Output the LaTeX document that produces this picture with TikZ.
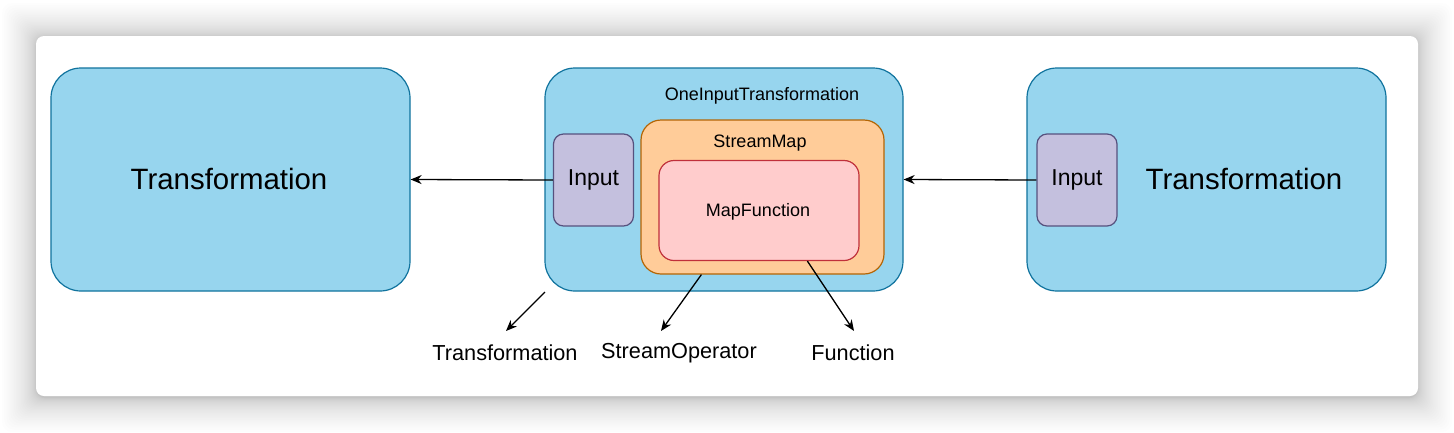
\documentclass[tikz,border=0pt]{standalone}
\usepackage{fontspec}
\setmainfont{Liberation Sans}
\usetikzlibrary{arrows.meta,calc}
\definecolor{tblue}{HTML}{97D5EE}
\definecolor{tbluel}{HTML}{10739E}
\definecolor{tpurp}{HTML}{C4C0DE}
\definecolor{tpurpl}{HTML}{56517E}
\definecolor{torng}{HTML}{FFCC99}
\definecolor{torngl}{HTML}{B46504}
\definecolor{tpink}{HTML}{FFCCCC}
\definecolor{tpinkl}{HTML}{C0303A}
\begin{document}
\begin{tikzpicture}[x=1pt,y=-1pt,
  trbox/.style={draw=tbluel,fill=tblue,line width=1.2pt,rounded corners=30pt,minimum width=359pt,minimum height=223pt,inner sep=0pt},
  inbox/.style={draw=tpurpl,fill=tpurp,line width=1.2pt,rounded corners=10pt,minimum width=80pt,minimum height=92pt,inner sep=0pt,font=\fontsize{23}{27}\selectfont},
  opbox/.style={draw=torngl,fill=torng,line width=1.2pt,rounded corners=20pt,minimum width=243pt,minimum height=154pt,inner sep=0pt},
  fnbox/.style={draw=tpinkl,fill=tpink,line width=1.2pt,rounded corners=15pt,minimum width=200pt,minimum height=100pt,inner sep=0pt},
  bigtxt/.style={font=\fontsize{29.4}{34}\selectfont,inner sep=0pt},
  smalltxt/.style={font=\fontsize{18}{22}\selectfont,inner sep=0pt},
  lbltxt/.style={font=\fontsize{21.7}{26}\selectfont,inner sep=0pt},
  conn/.style={line width=1.3pt,-{Stealth[length=11pt,width=9pt,inset=3.5pt]}}
]
\useasboundingbox (0,0) rectangle (1454,432);
% shadow
\foreach \k in {30,29,...,1}{
  \pgfmathsetmacro{\d}{34*(\k/30)^2}
  \fill[black,opacity=0.0075,rounded corners=10pt] (36-\d,37-\d) rectangle (1418+\d,398+\d);
}
\fill[white,rounded corners=8pt] (36,36) rectangle (1418,396);

% boxes
\node[trbox] (left) at (230.5,179.5) {};
\node[bigtxt] (lefttxt) at (229,179) {Transformation};
\node[trbox,minimum width=358pt] (mid) at (724,179.5) {};
\node[trbox] (right) at (1206.5,179.5) {};
\node[bigtxt] (righttxt) at (1244,179) {Transformation};

\node[smalltxt] (midtxt) at (762,96) {OneInputTransformation};
\node[inbox] (inmid) at (593.5,180) {Input};
\node[inbox] (inright) at (1077,180) {Input};
\node[opbox] (op) at (762.5,197) {};
\node[smalltxt] (optxt) at (760,143) {StreamMap};
\node[fnbox] (fn) at (759,210.5) {};
\node[smalltxt] (fntxt) at (758,212) {MapFunction};

% connectors
\draw[conn] (inmid.west) -- (left.east);
\draw[conn] (inright.west) -- (mid.east);

% bottom labels
\node[lbltxt] (l1) at (505,353) {Transformation};
\node[lbltxt] (l2) at (679,353) {StreamOperator};
\node[lbltxt] (l3) at (853,353) {Function};

\coordinate (s1) at (545,292);
\coordinate (t1) at (506,331);
\coordinate (s2) at ($(op.south west)+(61,0)$);
\coordinate (t2) at (661,331);
\coordinate (s3) at ($(fn.south west)+(149,0)$);
\coordinate (t3) at (854,331);
\draw[conn] (s1) -- (t1);
\draw[conn] (s2) -- (t2);
\draw[conn] (s3) -- (t3);
\end{tikzpicture}
\end{document}
